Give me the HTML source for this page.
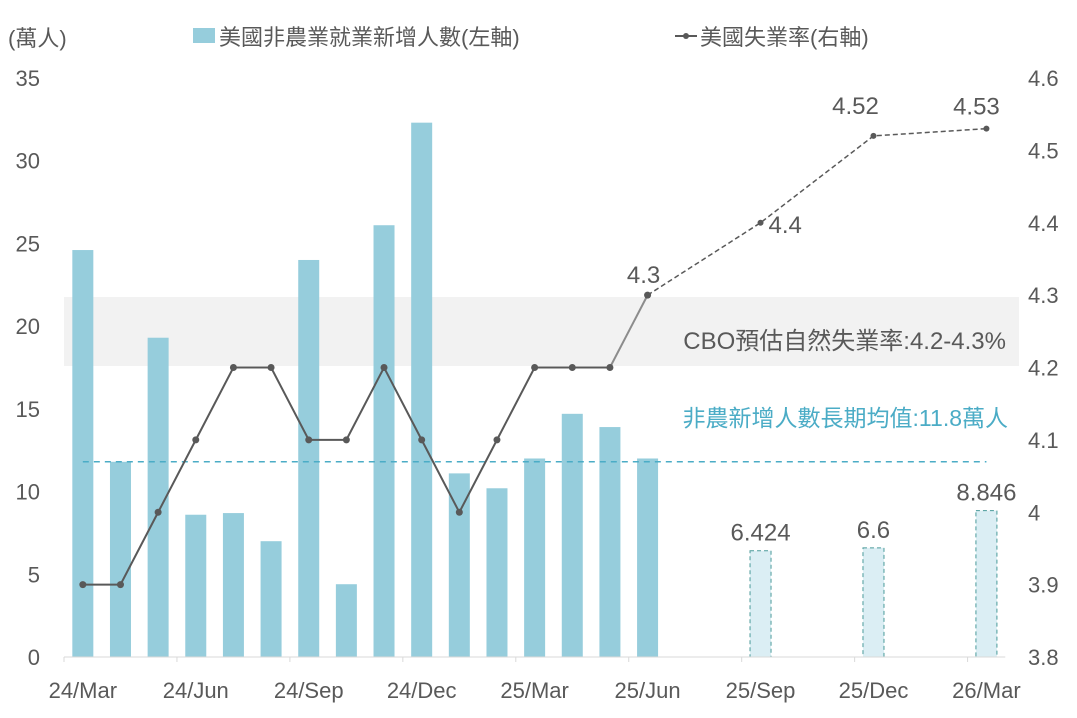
<!DOCTYPE html>
<html><head><meta charset="utf-8">
<style>
html,body{margin:0;padding:0;background:#fff;}
svg{display:block;font-family:"Liberation Sans","Noto Sans CJK TC",sans-serif;}
</style></head>
<body>
<svg id="chart" width="1077" height="718" viewBox="0 0 1077 718" xmlns="http://www.w3.org/2000/svg">
  <rect x="64" y="297" width="955" height="69" fill="#f2f2f2"/>
  <g id="bars"></g>
  <g id="lines"></g>
  <g id="axes"></g>
  <text x="8" y="46" font-size="22" fill="#595959">(萬人)</text>
  <rect x="193" y="28" width="22" height="15" fill="#96cddc"/>
  <text x="219" y="45" font-size="22" fill="#595959">美國非農業就業新增人數(左軸)</text>
  <line x1="675" y1="36" x2="697" y2="36" stroke="#595959" stroke-width="2"/>
  <circle cx="686" cy="36" r="3" fill="#595959"/>
  <text x="700" y="45" font-size="22" fill="#595959">美國失業率(右軸)</text>
  <text x="1006" y="349" font-size="24" fill="#595959" text-anchor="end">CBO預估自然失業率:4.2-4.3%</text>
  <text x="1008" y="426" font-size="23" fill="#4bacc6" text-anchor="end">非農新增人數長期均值:11.8萬人</text>
</svg>
<script>
const months = ["24/Mar","24/Apr","24/May","24/Jun","24/Jul","24/Aug","24/Sep","24/Oct","24/Nov","24/Dec","25/Jan","25/Feb","25/Mar","25/Apr","25/May","25/Jun","25/Jul","25/Aug","25/Sep","25/Oct","25/Nov","25/Dec","26/Jan","26/Feb","26/Mar"];
const payrolls = [24.6,11.8,19.3,8.6,8.7,7.0,24.0,4.4,26.1,32.3,11.1,10.2,12.0,14.7,13.9,12.0];
const forecastIdx = [18,21,24];
const forecastPayrolls = [6.424,6.6,8.846];
const forecastLabels = ["6.424","6.6","8.846"];
const unemployment = [3.9,3.9,4.0,4.1,4.2,4.2,4.1,4.1,4.2,4.1,4.0,4.1,4.2,4.2,4.2,4.3];
const uForecastIdx = [15,18,21,24];
const uForecast = [4.3,4.4,4.52,4.53];
const uForecastLabels = ["4.3","4.4","4.52","4.53"];
const leftTicks = [0,5,10,15,20,25,30,35];
const rightTicks = ["3.8","3.9","4","4.1","4.2","4.3","4.4","4.5","4.6"];
const xTickLabels = ["24/Mar","24/Jun","24/Sep","24/Dec","25/Mar","25/Jun","25/Sep","25/Dec","26/Mar"];
const avgValue = 11.8;

const NS="http://www.w3.org/2000/svg";
const x0=64, step=37.65, yBase=657, yTop=78;
const xc = i => x0 + step*(i+0.5);
const yL = v => yBase - (yBase-yTop)*v/35;
const yR = v => yBase - (yBase-yTop)*(v-3.8)/0.8;
function mk(tag,attrs,parent,text){const e=document.createElementNS(NS,tag);for(const k in attrs)e.setAttribute(k,attrs[k]);if(text!==undefined)e.textContent=text;parent.appendChild(e);return e;}
const bars=document.getElementById('bars'), lines=document.getElementById('lines'), axes=document.getElementById('axes');
const bw=21;
payrolls.forEach((v,i)=>{
  const r=mk('rect',{x:xc(i)-bw/2,y:yL(v),width:bw,height:yBase-yL(v),fill:'#96cddc'},bars);
  
  
});
forecastPayrolls.forEach((v,j)=>{
  const i=forecastIdx[j];
  const r=mk('rect',{x:xc(i)-bw/2,y:yL(v),width:bw,height:yBase-yL(v),fill:'#dbeef4',stroke:'#4a9a9a','stroke-dasharray':'4,3','stroke-width':1},bars);
  
  
  const t=mk('text',{x:xc(i),y:yL(v)-10,'font-size':24,fill:'#595959','text-anchor':'middle'},bars,forecastLabels[j]);
  
  
});
// average line
const av=mk('line',{x1:xc(0),x2:xc(24),y1:yL(avgValue),y2:yL(avgValue),stroke:'#4bacc6','stroke-width':1.5,'stroke-dasharray':'6,5'},lines);


// unemployment actual (up to index 14 dark, last segment grey)
let pts=unemployment.slice(0,15).map((v,i)=>xc(i)+','+yR(v)).join(' ');
const pl=mk('polyline',{points:pts,fill:'none',stroke:'#595959','stroke-width':2},lines);


const seg=mk('line',{x1:xc(14),y1:yR(unemployment[14]),x2:xc(15),y2:yR(unemployment[15]),stroke:'#8c8c8c','stroke-width':2},lines);


let fp=uForecast.map((v,j)=>xc(uForecastIdx[j])+','+yR(v)).join(' ');
const fl=mk('polyline',{points:fp,fill:'none',stroke:'#595959','stroke-width':1.5,'stroke-dasharray':'5,3'},lines);


unemployment.forEach((v,i)=>{
  const c=mk('circle',{cx:xc(i),cy:yR(v),r:3.5,fill:'#595959'},lines);
  
  
});
const lblOff=[[-4,-12],[8,10],[-18,-22],[-10,-14]];
uForecast.forEach((v,j)=>{
  const i=uForecastIdx[j];
  if(j>0){const c=mk('circle',{cx:xc(i),cy:yR(v),r:3,fill:'#595959'},lines);
  
  }
  const anchor = j==1?'start':'middle';
  const t=mk('text',{x:xc(i)+lblOff[j][0],y:yR(v)+lblOff[j][1],'font-size':24,fill:'#595959','text-anchor':anchor},lines,uForecastLabels[j]);
  
  
});
// axes
const ax=mk('line',{x1:x0,x2:x0+step*25,y1:yBase,y2:yBase,stroke:'#d9d9d9','stroke-width':1},axes);


xTickLabels.forEach((l,k)=>{
  const i=k*3;
  const tk=mk('line',{x1:x0+step*i,x2:x0+step*i,y1:yBase,y2:yBase+5,stroke:'#d9d9d9'},axes);
  
  
  const t=mk('text',{x:xc(i),y:698,'font-size':22,fill:'#595959','text-anchor':'middle'},axes,l);
  
  
});
leftTicks.forEach(v=>{
  const t=mk('text',{x:40,y:yL(v)+8,'font-size':22,fill:'#595959','text-anchor':'end'},axes,String(v));
  
  
});
rightTicks.forEach(l=>{
  const t=mk('text',{x:1028,y:yR(parseFloat(l))+8,'font-size':22,fill:'#595959'},axes,l);
  
  
});
</script>
</body></html>
